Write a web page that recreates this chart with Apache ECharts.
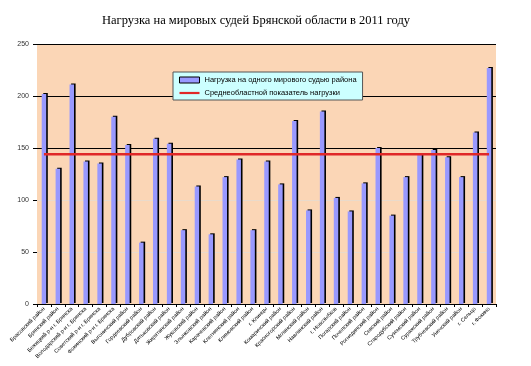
<!DOCTYPE html>
<html><head><meta charset="utf-8">
<script src="https://cdn.jsdelivr.net/npm/echarts@6/dist/echarts.min.js"></script>
<style>html,body{margin:0;padding:0;background:#fff}#c{width:531px;height:366px}</style>
</head><body><div id="c"></div>
<script>
const categories = [
"Брасовский район","Брянский район","Бежицкий р-н г. Брянска","Володарский р-н г. Брянска",
"Советский р-н г. Брянска","Фокинский р-н г. Брянска","Выгоничский район","Гордеевский район",
"Дубровский район","Дятьковский район","Жирятинский район","Жуковский район",
"Злынковский район","Карачевский район","Клетнянский район","Климовский район",
"г. Клинцы","Комаричский район","Красногорский район","Мглинский район",
"Навлинский район","г. Новозыбков","Погарский район","Почепский район",
"Рогнединский район","Севский район","Стародубский район","Суземский район",
"Суражский район","Трубчевский район","Унечский район","г. Сельцо","г. Фокино"];
const loadValues = [202,130,211,137,135,180,153,59,159,154,71,113,67,122,139,71,137,
  115,176,90,185,102,89,116,150,85,122,144,148,141,122,165,227];
const averageValue = 144;
const averageLine = categories.map(() => averageValue);
const yTicks = [0,50,100,150,200,250];
const seriesNames = ["Нагрузка на одного мирового судью района","Среднеобластной показатель нагрузки"];

const chart = echarts.init(document.getElementById('c'));
chart.setOption({
  animation:false,
  backgroundColor:'#fff',
  title:{text:'Нагрузка на мировых судей Брянской области в 2011 году',left:251,textAlign:'center',top:9,
    textStyle:{fontFamily:'Liberation Serif',fontSize:12.5,fontWeight:'normal',color:'#000'}},
  legend:{left:173,top:72,orient:'vertical',backgroundColor:'#CCFFFF',borderColor:'#555',borderWidth:1,
    padding:[4,6,3,6],itemGap:5,itemWidth:20,itemHeight:6,
    textStyle:{fontSize:7.5,fontFamily:'Liberation Sans',color:'#000'},
    data:[{name:seriesNames[0],icon:'rect',itemStyle:{color:'#9999FF',borderColor:'#000',borderWidth:1,shadowBlur:0,shadowOffsetX:0,shadowOffsetY:0}},
          {name:seriesNames[1],icon:'path://M0,0 L20,0 L20,2.2 L0,2.2 Z',itemStyle:{color:'#E02828',borderWidth:0}}]},
  grid:{left:37,right:35,top:44,bottom:62,show:true,backgroundColor:'#FBD6B6',borderWidth:0},
  xAxis:{type:'category',data:categories,
    axisLine:{lineStyle:{color:'#000',width:1}},
    axisTick:{show:true,length:3,lineStyle:{color:'#000'}},
    axisLabel:{rotate:45,fontSize:5.5,color:'#000',margin:4,interval:0,fontFamily:'Liberation Sans'}},
  yAxis:{type:'value',min:0,max:250,interval:50,
    axisLine:{show:false},axisTick:{show:true,length:4,lineStyle:{color:'#000'}},
    axisLabel:{fontSize:7,color:'#333',margin:8,fontFamily:'Liberation Sans',
      formatter:v=>yTicks.includes(v)?String(v):''},
    splitLine:{show:true,lineStyle:{width:1,color:['#000','#eadacb','#eadacb','#000','#000','#000']}}},
  series:[
    {name:seriesNames[0],type:'bar',data:loadValues,barWidth:4.5,
      itemStyle:{color:'#9999FF',borderColor:'#000',borderWidth:0,shadowColor:'#000',shadowOffsetX:1.6,shadowOffsetY:-1,shadowBlur:0}},
    {name:seriesNames[1],type:'line',data:averageLine,symbol:'none',
      lineStyle:{color:'#E02828',width:2.5},itemStyle:{color:'#E02828'},z:5}
  ]
});
</script></body></html>
